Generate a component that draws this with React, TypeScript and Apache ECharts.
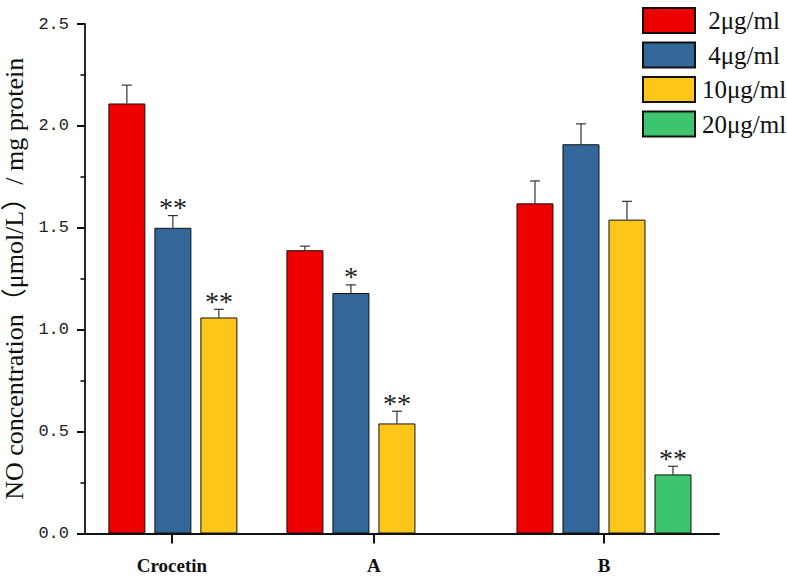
import React, { useEffect, useRef } from 'react';
import * as echarts from 'echarts';

// ---- data ----
const categories = ['Crocetin', 'A', 'B'];
const seriesNames = ['2μg/ml', '4μg/ml', '10μg/ml', '20μg/ml'];

const values2 = [2.11, 1.39, 1.62];
const values4 = [1.5, 1.18, 1.91];
const values10 = [1.06, 0.54, 1.54];
const values20 = [null, null, 0.29];

const errors2 = [0.09, 0.02, 0.11];
const errors4 = [0.06, 0.04, 0.1];
const errors10 = [0.04, 0.06, 0.09];
const errors20 = [null, null, 0.04];

const signif2 = ['', '', ''];
const signif4 = ['**', '*', ''];
const signif10 = ['**', '**', ''];
const signif20 = ['', '', '**'];

// positions of the groups and of their labels on the x (value) axis
const groupPositions = [2.41, 6.28, 11.28];
const labelPositions = [1.89, 6.28, 11.28];
const xMax = 13.78;

const yMin = 0;
const yMax = 2.5;
const yStep = 0.5;
const yMinorStep = 0.25;

// ---- styles ----
const colors = ['#EE0000', '#336699', '#FFC61A', '#3CC46F'];
const BAR_W = 37;
const BAR_GAP = 9;
const SERIF = '"Liberation Serif", "Times New Roman", serif';
const TITLE_FONT = '"Liberation Serif", "Noto Sans CJK SC", serif';

export default function App() {
  const ref = useRef<HTMLDivElement>(null);

  useEffect(() => {
    if (!ref.current) return;
    const chart = echarts.init(ref.current, null, { renderer: 'svg' });

    const valueSets = [values2, values4, values10, values20];
    const errorSets = [errors2, errors4, errors10, errors20];
    const sigSets = [signif2, signif4, signif10, signif20];
    const n = seriesNames.length;

    const barSeries = seriesNames.map((name, k) => ({
      name,
      type: 'bar',
      barWidth: BAR_W,
      barGap: `${(BAR_GAP / BAR_W) * 100}%`,
      itemStyle: { color: colors[k], borderColor: '#111', borderWidth: 1 },
      data: valueSets[k]
        .map((v, i) => (v == null ? null : [groupPositions[i], v]))
        .filter((d) => d != null),
      z: 2,
    }));

    const errSeries = seriesNames.map((name, k) => {
      const offsetPx = (k - (n - 1) / 2) * (BAR_W + BAR_GAP);
      return {
        name: 'err-' + name,
        type: 'custom',
        z: 5,
        silent: true,
        data: valueSets[k]
          .map((v, i) => (v == null ? null : [groupPositions[i], v, errorSets[k][i], i]))
          .filter((d) => d != null),
        renderItem: (params: any, api: any) => {
          const x = api.value(0);
          const v = api.value(1);
          const e = api.value(2);
          const ci = api.value(3);
          const top = api.coord([x, v + e]);
          const base = api.coord([x, v]);
          const cx = top[0] + offsetPx;
          const stroke = { stroke: '#333', lineWidth: 1.2 };
          const children: any[] = [
            { type: 'line', shape: { x1: cx, y1: base[1], x2: cx, y2: top[1] }, style: stroke },
            { type: 'line', shape: { x1: cx - 5, y1: top[1], x2: cx + 5, y2: top[1] }, style: stroke },
          ];
          const sig = sigSets[k][ci];
          if (sig) {
            children.push({
              type: 'text',
              x: cx,
              y: top[1] + 6,
              style: { text: sig, fill: '#222', font: `28px ${SERIF}`, align: 'center', verticalAlign: 'bottom' },
            });
          }
          return { type: 'group', children };
        },
      };
    });

    const option: any = {
      animation: false,
      backgroundColor: '#fff',
      grid: { left: 85, right: 68, top: 24, bottom: 42.5, outerBoundsMode: 'none', containLabel: false },
      legend: {
        data: seriesNames,
        orient: 'vertical',
        left: 637,
        top: 2,
        itemWidth: 52,
        itemHeight: 25,
        itemGap: 7.5,
        icon: 'rect',
        selectedMode: false,
        formatter: (name: string) => `{t|${name}}`,
        textStyle: {
          rich: { t: { width: 88, align: 'center', fontFamily: SERIF, fontSize: 25, color: '#111' } },
        },
      },
      xAxis: {
        type: 'value',
        min: 0,
        max: xMax,
        splitLine: { show: false },
        axisLine: { show: true, onZero: false, lineStyle: { color: '#111', width: 1.8 } },
        axisTick: { show: true, customValues: labelPositions, length: 10, lineStyle: { color: '#111', width: 2 } },
        axisLabel: {
          customValues: labelPositions,
          formatter: (val: number) => {
            let best = 0;
            labelPositions.forEach((p, i) => {
              if (Math.abs(p - val) < Math.abs(labelPositions[best] - val)) best = i;
            });
            return categories[best];
          },
          margin: 22,
          fontFamily: SERIF,
          fontWeight: 'bold',
          fontSize: 19,
          color: '#111',
        },
      },
      yAxis: [
        {
          type: 'value',
          min: yMin,
          max: yMax,
          interval: yStep,
          name: 'NO concentration（μmol/L）/ mg protein',
          nameLocation: 'middle',
          nameGap: 58,
          nameRotate: 90,
          nameTextStyle: { fontFamily: TITLE_FONT, fontSize: 26, color: '#111' },
          splitLine: { show: false },
          axisLine: { show: true, lineStyle: { color: '#111', width: 1.8 } },
          axisTick: { show: true, length: 8, lineStyle: { color: '#111', width: 2 } },
          axisLabel: {
            formatter: (v: number) => v.toFixed(1),
            margin: 16,
            fontFamily: '"Liberation Mono", monospace',
            fontSize: 17,
            color: '#222',
          },
          z: 3,
        },
        {
          // minor ticks
          type: 'value',
          position: 'left',
          min: yMin,
          max: yMax,
          interval: yMinorStep,
          splitLine: { show: false },
          axisLine: { show: false },
          axisTick: { show: true, length: 4.5, lineStyle: { color: '#111', width: 1.6 } },
          axisLabel: { show: false },
          z: 2,
        },
      ],
      series: [...barSeries, ...errSeries],
    };

    chart.setOption(option);
    return () => chart.dispose();
  }, []);

  return (
    <div ref={ref} style={{ position: 'fixed', left: 0, top: 0, width: 787, height: 576, background: '#fff' }} />
  );
}
